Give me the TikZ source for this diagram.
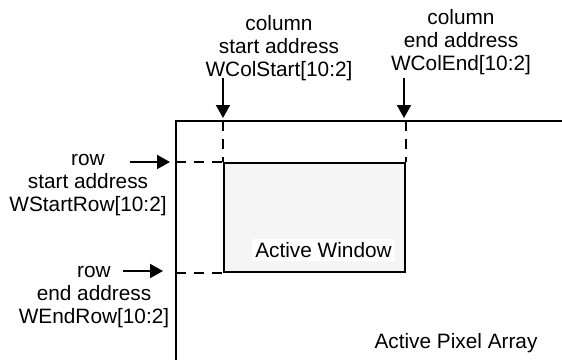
\documentclass[tikz,border=0pt]{standalone}
\usepackage{fontspec}
\setmainfont{Liberation Sans}
\usetikzlibrary{arrows.meta, positioning}

\begin{document}
\begin{tikzpicture}[x=0.5pt, y=-0.5pt,
	lbl/.style={align=center, font=\fontsize{10.4}{11.5}\selectfont, inner sep=0pt},
	ptr/.style={-{Triangle[length=6.5pt, width=7pt]}, line width=1pt},
	guide/.style={dash pattern=on 5pt off 4pt, line width=0.6pt},
	frame/.style={line width=1pt}]
	\useasboundingbox (0,0) rectangle (562,360);
	% pixel array and window
	\coordinate (corner) at (176,121);
	\coordinate (arraybottom) at (176,360);
	\coordinate (arrayright) at (562,121);
	\draw[frame] (arraybottom) -- (corner) -- (arrayright);
	\node[draw, frame, fill=gray!8, anchor=north west, minimum width=90.5pt, minimum height=54.5pt, inner sep=0pt] (win) at (223,162) {};
	\draw[guide] (win.north west |- corner) -- (win.north west);
	\draw[guide] (win.north east |- corner) -- (win.north east);
	\draw[guide] (corner |- win.north west) -- (win.north west);
	\draw[guide] (corner |- win.south west) -- (win.south west);
	\node[lbl, fill=white, inner sep=1.5pt] (winlabel) at (323.5,250) {Active Window};
	\node[lbl] (arraylabel) at (456,343) {Active Pixel Array};
	% address labels
	\node[lbl] (colstart) at (279,48) {column\\start address\\WColStart[10:2]};
	\node[lbl] (colend) at (461,42) {column\\end address\\WColEnd[10:2]};
	\node[lbl] (rowstart) at (88,185) {row\\start address\\WStartRow[10:2]};
	\node[lbl] (rowend) at (94,297) {row\\end address\\WEndRow[10:2]};
	\coordinate (colstarttail) at (223,78);
	\coordinate (colendtail) at (404,78);
	\coordinate (rowstarttail) at (130,162);
	\coordinate (rowendtail) at (123,271);
	\path[ptr, shorten >=1.5pt]
	(colstarttail) edge (colstarttail |- corner)
	(colendtail) edge (colendtail |- corner)
	;
	\path[ptr]
	(rowstarttail) edge [shorten >=3pt] (rowstarttail -| corner)
	(rowendtail) edge [shorten >=6.5pt] (rowendtail -| corner)
	;
\end{tikzpicture}
\end{document}
